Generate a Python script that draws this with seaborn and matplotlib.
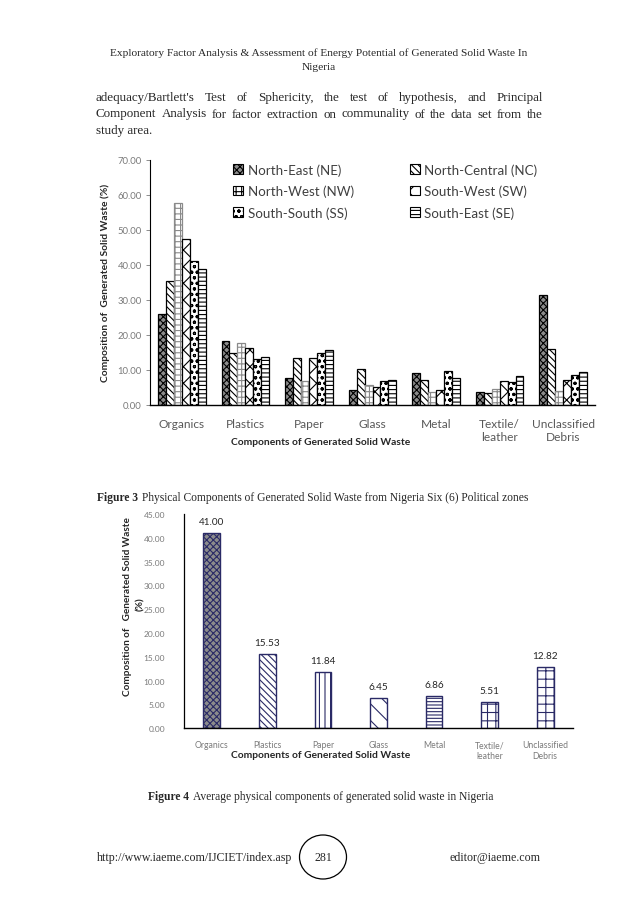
import pandas as pd
import seaborn as sns
import matplotlib.pyplot as plt
from matplotlib.patches import Ellipse, Patch
from matplotlib.ticker import FormatStrFormatter, MultipleLocator

components = ['Organics', 'Plastics', 'Paper', 'Glass', 'Metal', 'Textile/\nleather', 'Unclassified\nDebris']
zones = ['North-East (NE)', 'North-Central (NC)', 'North-West (NW)',
         'South-West (SW)', 'South-South (SS)', 'South-East (SE)']

# Figure 3: composition per zone (%)
ne = [25.9, 18.2, 7.6, 4.2, 9.0, 3.8, 31.3]
nc = [35.4, 14.7, 13.3, 10.2, 7.2, 3.5, 16.1]
nw = [57.6, 17.6, 6.8, 5.8, 3.8, 4.6, 4.0]
sw = [47.4, 16.3, 13.5, 5.2, 4.2, 6.8, 7.0]
ss = [41.2, 13.1, 14.7, 6.8, 9.7, 6.5, 8.7]
se = [38.9, 13.6, 15.7, 7.0, 7.6, 8.2, 9.5]

# Figure 4: national average (%)
average = [41.00, 15.53, 11.84, 6.45, 6.86, 5.51, 12.82]

zone_hatch = {'North-East (NE)': 'xxxxx', 'North-Central (NC)': '\\\\\\\\\\',
              'North-West (NW)': '+++', 'South-West (SW)': 'xx',
              'South-South (SS)': 'ooo', 'South-East (SE)': '----'}
zone_fill = {z: 'white' for z in zones}
zone_fill['North-East (NE)'] = '#8c8c8c'
avg_hatch = ['xxxxx', '\\\\\\\\\\', '|||', '\\\\', '-----', '++', '++']

W, H = 638, 903
sns.set_style('white')
plt.rcParams['font.family'] = ['Lato', 'DejaVu Sans']
plt.rcParams['hatch.linewidth'] = 0.8

fig = plt.figure(figsize=(W / 100, H / 100), dpi=100)
renderer = fig.canvas.get_renderer()


def box(x0, y0, x1, y1):
    # pixel box (top-left origin) -> figure fraction rect
    return [x0 / W, 1 - y1 / H, (x1 - x0) / W, (y1 - y0) / H]


serif = ['Liberation Serif', 'DejaVu Serif']


def caption(x, y, bold, rest, size=8.3):
    t = fig.text(x / W, 1 - y / H, bold + ' ', ha='left', va='center', fontsize=size,
                 fontweight='bold', family=serif)
    w = t.get_window_extent(renderer).width
    fig.text((x + w + 1) / W, 1 - y / H, rest, ha='left', va='center', fontsize=size, family=serif)


# ---------------- page text ----------------
fig.text(319 / W, 1 - 53 / H,
         'Exploratory Factor Analysis & Assessment of Energy Potential of Generated Solid Waste In',
         ha='center', va='center', fontsize=8.2, family=serif)
fig.text(319 / W, 1 - 67 / H, 'Nigeria', ha='center', va='center', fontsize=8.2, family=serif)

para = ["adequacy/Bartlett's Test of Sphericity, the test of hypothesis, and Principal",
        'Component Analysis for factor extraction on communality of the data set from the',
        'study area.']
left_px, right_px = 96, 543
for i, line in enumerate(para):
    y = 1 - (98 + 16.5 * i) / H
    words = line.split(' ')
    if i == len(para) - 1:
        fig.text(left_px / W, y, line, ha='left', va='center', fontsize=9.4, family=serif)
        continue
    objs = [fig.text(0, y, w, ha='left', va='center', fontsize=9.4, family=serif) for w in words]
    widths = [o.get_window_extent(renderer).width for o in objs]
    gap = (right_px - left_px - sum(widths)) / (len(words) - 1)
    x = left_px
    for o, w in zip(objs, widths):
        o.set_x(x / W)
        x += w + gap

# ---------------- Figure 3 ----------------
df3 = pd.DataFrame({'component': components * 6,
                    'zone': [z for z in zones for _ in components],
                    'value': ne + nc + nw + sw + ss + se})
ax1 = fig.add_axes(box(150, 160.7, 595, 406))
sns.barplot(data=df3, x='component', y='value', hue='zone', hue_order=zones,
            palette=zone_fill, width=0.75, errorbar=None, edgecolor='black',
            linewidth=0.9, ax=ax1, legend=False)
for cont, z in zip(ax1.containers, zones):
    for bar in cont:
        bar.set_hatch(zone_hatch[z])
        if z == 'North-West (NW)':
            bar.set_edgecolor('#8a8a8a')

ax1.set_ylim(0, 70)
ax1.yaxis.set_major_locator(MultipleLocator(10))
ax1.yaxis.set_major_formatter(FormatStrFormatter('%.2f'))
ax1.set_xlim(-0.5, 6.5)
ax1.set_xlabel('')
ax1.set_ylabel('')
ax1.tick_params(axis='y', labelsize=6.8, labelcolor='#7a7a7a', left=True, length=3,
                width=0.6, color='#7a7a7a', pad=3)
ax1.tick_params(axis='x', labelsize=8.6, labelcolor='#595959', bottom=False, pad=6)
for s in ['top', 'right']:
    ax1.spines[s].set_visible(False)
ax1.spines['left'].set_color('black')
ax1.spines['left'].set_linewidth(0.8)
ax1.spines['bottom'].set_color('black')
ax1.spines['bottom'].set_linewidth(1.0)

legend_order = [0, 2, 4, 1, 3, 5]
handles = [Patch(facecolor=zone_fill[zones[k]], edgecolor='black', hatch=zone_hatch[zones[k]],
                 linewidth=0.8) for k in legend_order]
fig.legend(handles, [zones[k] for k in legend_order], ncol=2, loc='upper left',
           bbox_to_anchor=(233 / W, 1 - 164 / H), frameon=False, fontsize=9.6,
           handlelength=0.75, handleheight=0.75, handletextpad=0.35,
           columnspacing=4.2, labelspacing=0.68, borderaxespad=0, borderpad=0,
           labelcolor='#404040')

fig.text(105 / W, 1 - 283 / H, 'Composition of  Generated Solid Waste (%)', rotation=90,
         ha='center', va='center', fontsize=7.4, fontweight='bold', color='#262626')
fig.text(321 / W, 1 - 443 / H, 'Components of Generated Solid Waste', ha='center', va='center',
         fontsize=7.4, fontweight='bold', color='#262626')

caption(97, 498, 'Figure 3',
        'Physical Components of Generated Solid Waste from Nigeria Six (6) Political zones')

# ---------------- Figure 4 ----------------
df4 = pd.DataFrame({'component': components, 'value': average})
ax2 = fig.add_axes(box(184, 515, 573, 729.3))
fill4 = {c: 'white' for c in components}
fill4['Organics'] = '#8c8c8c'
sns.barplot(data=df4, x='component', y='value', hue='component', palette=fill4,
            width=0.3, errorbar=None, edgecolor='#2a2a66', linewidth=1.0, ax=ax2,
            legend=False)
for cont, h in zip(ax2.containers, avg_hatch):
    for bar in cont:
        bar.set_hatch(h)
    ax2.bar_label(cont, fmt='%.2f', padding=5, fontsize=7.2, color='#262626')

ax2.set_ylim(0, 45)
ax2.yaxis.set_major_locator(MultipleLocator(5))
ax2.yaxis.set_major_formatter(FormatStrFormatter('%.2f'))
ax2.set_xlim(-0.5, 6.5)
ax2.set_xlabel('')
ax2.set_ylabel('')
ax2.tick_params(axis='y', labelsize=6.0, labelcolor='#7a7a7a', left=False, pad=10)
ax2.tick_params(axis='x', labelsize=6.2, labelcolor='#7a7a7a', bottom=False, pad=5)
for s in ['top', 'right']:
    ax2.spines[s].set_visible(False)
ax2.spines['left'].set_color('black')
ax2.spines['left'].set_linewidth(0.9)
ax2.spines['bottom'].set_color('black')
ax2.spines['bottom'].set_linewidth(1.0)

fig.text(128 / W, 1 - 607 / H, 'Composition of   Generated Solid Waste', rotation=90,
         ha='center', va='center', fontsize=7.2, fontweight='bold', color='#262626')
fig.text(141 / W, 1 - 604 / H, '(%)', rotation=90, ha='center', va='center',
         fontsize=7.2, fontweight='bold', color='#262626')
fig.text(321 / W, 1 - 756 / H, 'Components of Generated Solid Waste', ha='center', va='center',
         fontsize=7.4, fontweight='bold', color='#262626')

caption(148, 797, 'Figure 4', 'Average physical components of generated solid waste in Nigeria')

# ---------------- footer ----------------
fig.text(97 / W, 1 - 858 / H, 'http://www.iaeme.com/IJCIET/index.asp', ha='left', va='center',
         fontsize=8.6, family=serif)
fig.text(323 / W, 1 - 858 / H, '281', ha='center', va='center', fontsize=8.6, family=serif)
fig.text(540 / W, 1 - 858 / H, 'editor@iaeme.com', ha='right', va='center', fontsize=8.6,
         family=serif)
fig.add_artist(Ellipse((323 / W, 1 - 858 / H), 47 / W, 44 / H, transform=fig.transFigure,
                       fill=False, edgecolor='black', linewidth=0.9))

fig.savefig('out.png', dpi=100)
